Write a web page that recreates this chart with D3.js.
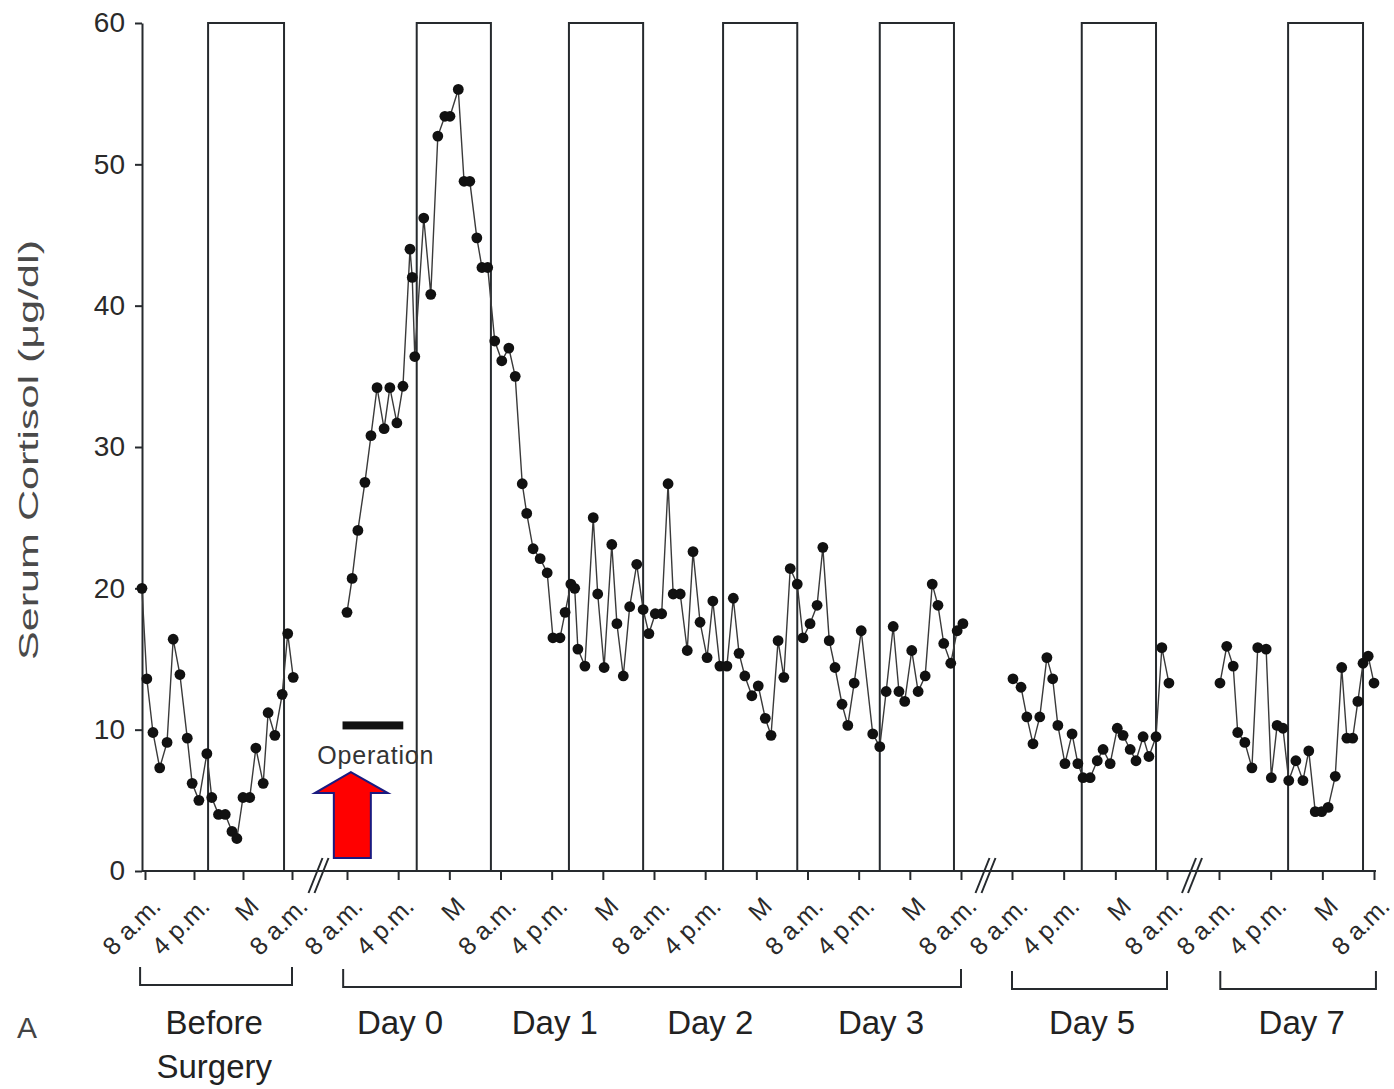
<!DOCTYPE html>
<html><head><meta charset="utf-8">
<script src="https://cdn.jsdelivr.net/npm/d3@7"></script>
<style>
html,body{margin:0;padding:0;background:#fff;}
svg{display:block;font-family:"Liberation Sans", Arial, Helvetica, sans-serif;}
</style></head><body>
<svg id="chart" width="1394" height="1089"></svg>
<script>
// ---------------- DATA ----------------
const yTicks = [0, 10, 20, 30, 40, 50, 60];
const tickLabels = ["8 a.m.", "4 p.m.", "M"];

// hours after 8 a.m. of the first day in each panel, serum cortisol (µg/dl)
const beforeHours  = [-0.5, 0.3, 1.3, 2.4, 3.6, 4.6, 5.7, 6.9, 7.7, 8.8, 10.1, 10.9, 12.0, 13.1, 14.2, 15.0, 16.0, 17.1, 18.1, 19.3, 20.1, 21.2, 22.4, 23.3, 24.2];
const beforeValues = [20.0, 13.6, 9.8, 7.3, 9.1, 16.4, 13.9, 9.4, 6.2, 5.0, 8.3, 5.2, 4.0, 4.0, 2.8, 2.3, 5.2, 5.2, 8.7, 6.2, 11.2, 9.6, 12.5, 16.8, 13.7];

const day03Hours  = [0, 0.8, 1.7, 2.8, 3.75, 4.7, 5.8, 6.7, 7.8, 8.75, 9.85, 10.2, 10.6, 12.0, 13.1, 14.2, 15.3, 16.1, 17.4, 18.3, 19.2, 20.3, 21.1, 22.0,
  23.1, 24.2, 25.3, 26.3, 27.4, 28.1, 29.1, 30.2, 31.3, 32.2, 33.3, 34.1, 35.0, 35.6, 36.1, 37.2, 38.5, 39.2, 40.2, 41.4,
  42.2, 43.2, 44.2, 45.3, 46.3, 47.2, 48.2, 49.2, 50.2, 51.0, 52.1, 53.2, 54.1, 55.2, 56.3, 57.2, 58.3, 59.4, 60.4, 61.3,
  62.2, 63.3, 64.3, 65.4, 66.3, 67.4, 68.3, 69.3, 70.4, 71.3, 72.4, 73.5, 74.4, 75.4, 76.3, 77.4, 78.3, 79.3, 80.4, 82.2,
  83.3, 84.3, 85.4, 86.3, 87.2, 88.3, 89.3, 90.4, 91.5, 92.4, 93.3, 94.4, 95.4, 96.3];
const day03Values = [18.3, 20.7, 24.1, 27.5, 30.8, 34.2, 31.3, 34.2, 31.7, 34.3, 44.0, 42.0, 36.4, 46.2, 40.8, 52.0, 53.4, 53.4, 55.3, 48.8, 48.8, 44.8, 42.7, 42.7,
  37.5, 36.1, 37.0, 35.0, 27.4, 25.3, 22.8, 22.1, 21.1, 16.5, 16.5, 18.3, 20.3, 20.0, 15.7, 14.5, 25.0, 19.6, 14.4, 23.1,
  17.5, 13.8, 18.7, 21.7, 18.5, 16.8, 18.2, 18.2, 27.4, 19.6, 19.6, 15.6, 22.6, 17.6, 15.1, 19.1, 14.5, 14.5, 19.3, 15.4,
  13.8, 12.4, 13.1, 10.8, 9.6, 16.3, 13.7, 21.4, 20.3, 16.5, 17.5, 18.8, 22.9, 16.3, 14.4, 11.8, 10.3, 13.3, 17.0, 9.7,
  8.8, 12.7, 17.3, 12.7, 12.0, 15.6, 12.7, 13.8, 20.3, 18.8, 16.1, 14.7, 17.0, 17.5];

const day5Hours  = [0.15, 1.4, 2.3, 3.25, 4.3, 5.4, 6.3, 7.1, 8.2, 9.3, 10.2, 11.0, 12.1, 13.2, 14.1, 15.2, 16.3, 17.2, 18.3, 19.2, 20.3, 21.2, 22.3, 23.2, 24.3];
const day5Values = [13.6, 13.0, 10.9, 9.0, 10.9, 15.1, 13.6, 10.3, 7.6, 9.7, 7.6, 6.6, 6.6, 7.8, 8.6, 7.6, 10.1, 9.6, 8.6, 7.8, 9.5, 8.1, 9.5, 15.8, 13.3];

const day7Hours  = [0.15, 1.2, 2.2, 2.9, 4.0, 5.1, 6.0, 7.3, 8.1, 9.0, 9.9, 10.8, 11.9, 13.0, 13.9, 14.9, 15.9, 16.9, 18.0, 19.0, 19.8, 20.7, 21.5, 22.3, 23.1, 24.0];
const day7Values = [13.3, 15.9, 14.5, 9.8, 9.1, 7.3, 15.8, 15.7, 6.6, 10.3, 10.1, 6.4, 7.8, 6.4, 8.5, 4.2, 4.2, 4.5, 6.7, 14.4, 9.4, 9.4, 12.0, 14.7, 15.2, 13.3];

// dark (night) periods, hours [start, end]
const beforeNights = [[10.3, 22.7]];
const day03Nights  = [[10.9, 22.5], [34.7, 46.3], [58.8, 70.4], [83.3, 94.9]];
const day5Nights   = [[10.8, 22.3]];
const day7Nights   = [[10.7, 22.3]];

// group labels: [text, hour position]
const beforeGroupLabels = [["Before|Surgery", 11.3]];
const day03GroupLabels  = [["Day 0", 8.3], ["Day 1", 32.5], ["Day 2", 56.8], ["Day 3", 83.5]];
const day5GroupLabels   = [["Day 5", 12.4]];
const day7GroupLabels   = [["Day 7", 12.8]];

// brackets [startHour, endHour]
const beforeBracket = [-0.8, 24];
const day03Bracket  = [-0.6, 96];
const day5Bracket   = [0, 24];
const day7Bracket   = [0.2, 24.3];

// operation period: start hour, end hour, level
const operationPeriod = [-0.7, 8.8, 10.3];
const yTitle = "Serum Cortisol (μg/dl)";

// ---------------- LAYOUT ----------------
const svg = d3.select("#chart");
const y = d3.scaleLinear().domain([0, 60]).range([871, 23]);
const axisY0 = y(0);

const segments = [
  {span: 24, range: [145, 292],  hours: beforeHours, values: beforeValues, nights: beforeNights, labels: beforeGroupLabels, bracket: beforeBracket, by: 985},
  {span: 96, range: [347, 961],  hours: day03Hours,  values: day03Values,  nights: day03Nights,  labels: day03GroupLabels,  bracket: day03Bracket,  by: 987},
  {span: 24, range: [1012, 1167], hours: day5Hours,  values: day5Values,   nights: day5Nights,   labels: day5GroupLabels,   bracket: day5Bracket,   by: 989},
  {span: 24, range: [1219, 1374], hours: day7Hours,  values: day7Values,   nights: day7Nights,   labels: day7GroupLabels,   bracket: day7Bracket,   by: 989}
];
segments.forEach(s => { s.x = d3.scaleLinear().domain([0, s.span]).range(s.range); });

const ink = "#262a2e";

// night boxes
segments.forEach(s => {
  svg.append("g").selectAll("rect").data(s.nights).join("rect")
    .attr("x", d => s.x(d[0])).attr("y", y(60))
    .attr("width", d => s.x(d[1]) - s.x(d[0])).attr("height", y(0) - y(60))
    .attr("fill", "none").attr("stroke", ink).attr("stroke-width", 2);
});

// x axis baseline
svg.append("line").attr("x1", 142).attr("x2", 1376).attr("y1", axisY0).attr("y2", axisY0)
  .attr("stroke", ink).attr("stroke-width", 2);

// x axis ticks per segment
segments.forEach(s => {
  const g = svg.append("g").attr("transform", `translate(0,${axisY0})`)
    .call(d3.axisBottom(s.x).tickValues(d3.range(0, s.span + 1, 8)).tickSize(9)
      .tickFormat((d, i) => tickLabels[i % 3]));
  g.select(".domain").remove();
  g.selectAll(".tick line").attr("stroke", ink).attr("stroke-width", 2);
  g.selectAll(".tick text")
    .attr("x", 0).attr("y", 0).attr("dy", "0.72em")
    .attr("transform", "translate(4,24) rotate(-45)")
    .style("text-anchor", "end")
    .attr("font-size", 25).attr("fill", "#2a2a2a")
    .attr("font-family", "'Liberation Sans', Arial, sans-serif");
});

// break marks
const breaks = [ (292 + 347) / 2, (961 + 1012) / 2, (1167 + 1219) / 2 ];
breaks.forEach(cx => {
  [0, 6].forEach(off => {
    svg.append("line")
      .attr("x1", cx - 11 + off).attr("y1", axisY0 + 22)
      .attr("x2", cx + 3 + off).attr("y2", axisY0 - 13)
      .attr("stroke", ink).attr("stroke-width", 2);
  });
});

// y axis
const gy = svg.append("g").attr("transform", "translate(142,0)")
  .call(d3.axisLeft(y).tickValues(yTicks).tickSize(7).tickPadding(10).tickSizeOuter(0));
gy.select(".domain").attr("stroke", ink).attr("stroke-width", 2);
gy.selectAll(".tick line").attr("stroke", ink).attr("stroke-width", 2);
gy.selectAll(".tick text").attr("font-size", 28).attr("fill", "#2a2a2a")
  .attr("font-family", "'Liberation Sans', Arial, sans-serif");

// y title
svg.append("text").attr("transform", `translate(38,${(y(60) + y(0)) / 2 + 3}) rotate(-90)`)
  .attr("text-anchor", "middle").attr("font-size", 28).attr("fill", "#4a4a4a")
  .attr("textLength", 420).attr("lengthAdjust", "spacingAndGlyphs")
  .text(yTitle);

// brackets and group labels
segments.forEach(s => {
  const x0 = s.x(s.bracket[0]), x1 = s.x(s.bracket[1]);
  svg.append("path").attr("d", `M${x0},${s.by - 18}V${s.by}H${x1}V${s.by - 18}`)
    .attr("fill", "none").attr("stroke", ink).attr("stroke-width", 2);
  s.labels.forEach(([txt, h]) => {
    const t = svg.append("text").attr("x", s.x(h)).attr("y", 1034)
      .attr("text-anchor", "middle").attr("font-size", 33).attr("fill", "#222");
    txt.split("|").forEach((line, i) => {
      t.append("tspan").attr("x", s.x(h)).attr("dy", i === 0 ? 0 : 44).text(line);
    });
  });
});

// data lines & points
const lineGen = d3.line().x(d => d[0]).y(d => d[1]);
segments.forEach(s => {
  const pts = s.hours.map((h, i) => [s.x(h), y(s.values[i])]);
  svg.append("path").attr("d", lineGen(pts)).attr("fill", "none")
    .attr("stroke", "#3a3a3a").attr("stroke-width", 1.4);
  svg.append("g").selectAll("circle").data(pts).join("circle")
    .attr("cx", d => d[0]).attr("cy", d => d[1]).attr("r", 5.4).attr("fill", "#111");
});

// operation annotation
const opX = segments[1].x;
svg.append("rect")
  .attr("x", opX(operationPeriod[0])).attr("y", y(operationPeriod[2]) - 4)
  .attr("width", opX(operationPeriod[1]) - opX(operationPeriod[0])).attr("height", 8)
  .attr("fill", "#111");
svg.append("text").attr("x", opX(4.5)).attr("y", y(7.6))
  .attr("text-anchor", "middle").attr("font-size", 25).attr("letter-spacing", 0.8)
  .attr("fill", "#333").text("Operation");

// red arrow
const ax = opX(0.6), ay = y(7.0);
svg.append("path")
  .attr("d", `M${ax},${ay} L${ax + 37},${ay + 21} L${ax + 20},${ay + 21} L${ax + 20},${ay + 86} L${ax - 17},${ay + 86} L${ax - 17},${ay + 21} L${ax - 36},${ay + 21} Z`)
  .attr("fill", "#ff0000").attr("stroke", "#1a1a80").attr("stroke-width", 2);

// panel letter
svg.append("text").attr("x", 17).attr("y", 1038).attr("font-size", 30).attr("fill", "#444").text("A");
</script>
</body></html>
